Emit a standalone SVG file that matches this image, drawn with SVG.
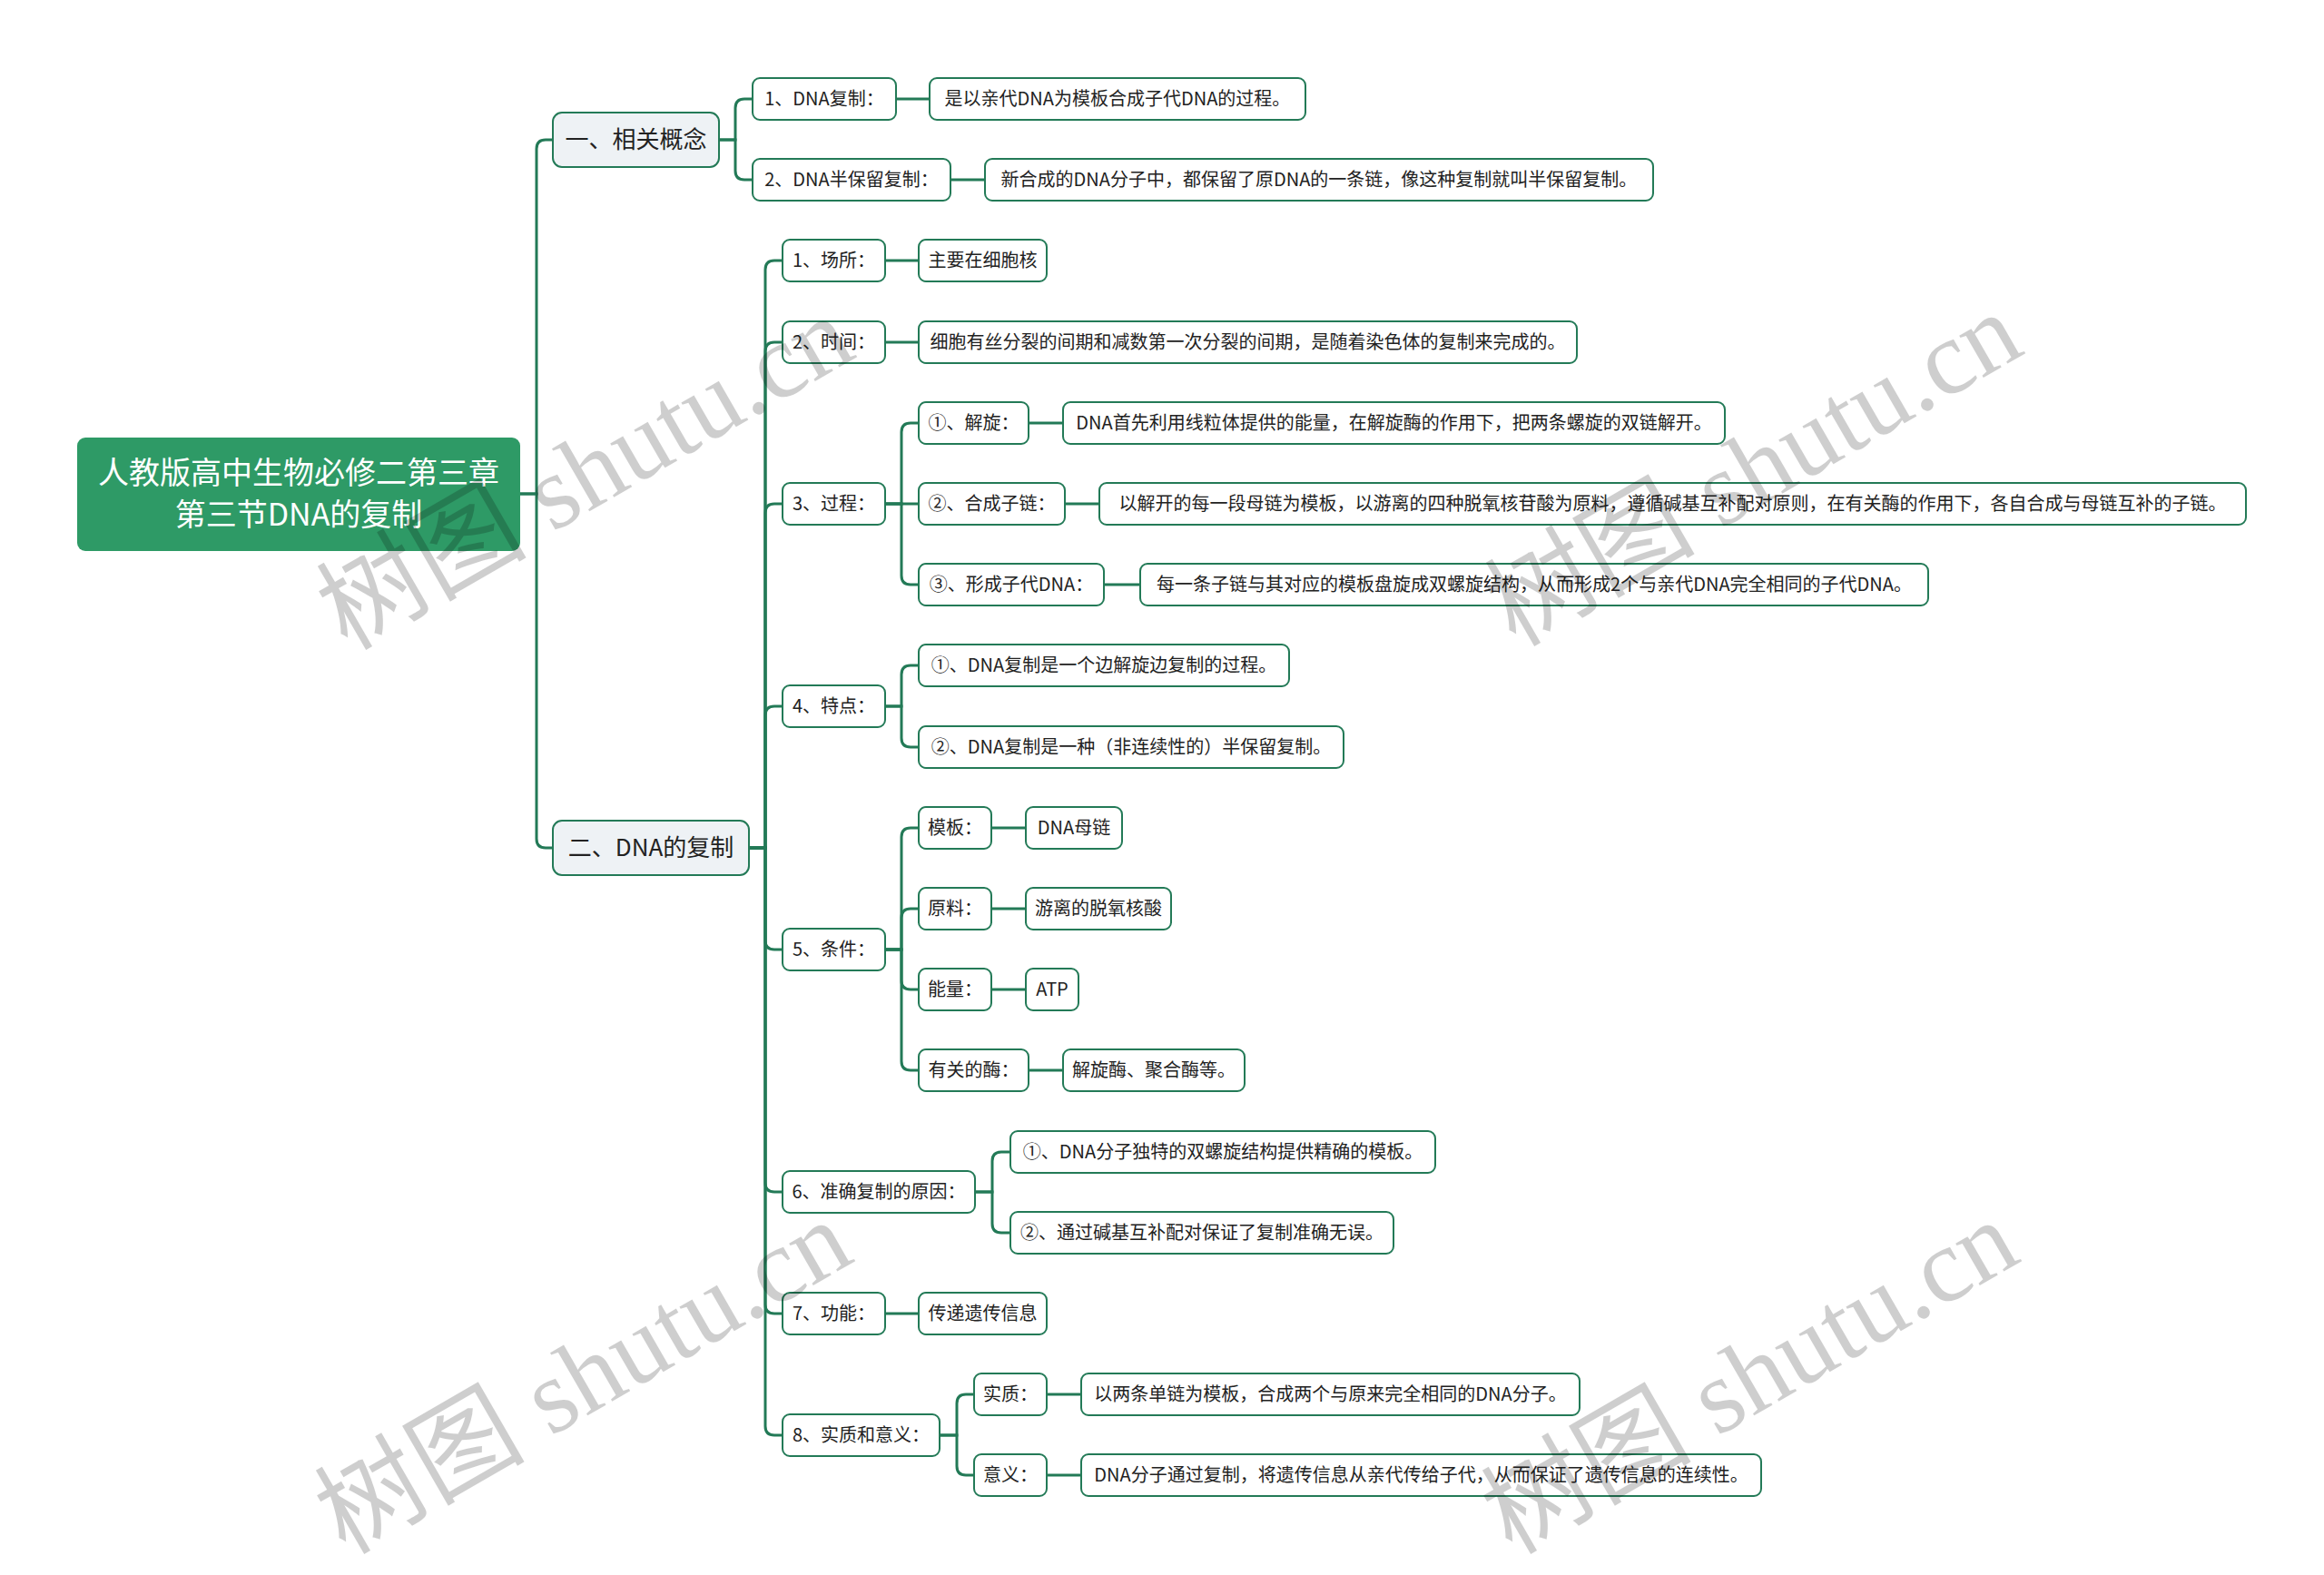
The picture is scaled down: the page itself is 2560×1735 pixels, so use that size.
<svg xmlns="http://www.w3.org/2000/svg" width="2560" height="1735" viewBox="0 0 2560 1735">
<style>
.c{fill:none;stroke:#237a57;stroke-width:3}
.n{fill:#fff;stroke:#237a57;stroke-width:2}
.l1{fill:#eef2f5;stroke:#237a57;stroke-width:2}
.root{fill:#2e9a66}
text{font-family:"Noto Sans CJK SC","Noto Sans",sans-serif;fill:#222;text-anchor:middle}
.t{font-size:20px}
.t1{font-size:26px}
.tr{font-size:34px;fill:#fff}
.wm{font-family:"Liberation Serif","Noto Sans CJK SC",serif;font-size:116px;fill:#000;opacity:0.19}
</style>
<rect width="2560" height="1735" fill="#fff"/>
<g id="connectors">
<path class="c" d="M573,544 H591 V164 Q591,154 601,154 H609"/>
<path class="c" d="M573,544 H591 V924 Q591,934 601,934 H609"/>
<path class="c" d="M792,154 H810 V119 Q810,109 820,109 H829"/>
<path class="c" d="M792,154 H810 V188 Q810,198 820,198 H829"/>
<path class="c" d="M825,934 H843 V297 Q843,287 853,287 H862"/>
<path class="c" d="M825,934 H843 V387 Q843,377 853,377 H862"/>
<path class="c" d="M825,934 H843 V565 Q843,555 853,555 H862"/>
<path class="c" d="M825,934 H843 V788 Q843,778 853,778 H862"/>
<path class="c" d="M825,934 H843 V1036 Q843,1046 853,1046 H862"/>
<path class="c" d="M825,934 H843 V1303 Q843,1313 853,1313 H862"/>
<path class="c" d="M825,934 H843 V1437 Q843,1447 853,1447 H862"/>
<path class="c" d="M825,934 H843 V1571 Q843,1581 853,1581 H862"/>
<path class="c" d="M975,555 H993 V476 Q993,466 1003,466 H1012"/>
<path class="c" d="M975,555 H1012"/>
<path class="c" d="M975,555 H993 V634 Q993,644 1003,644 H1012"/>
<path class="c" d="M975,778 H993 V743 Q993,733 1003,733 H1012"/>
<path class="c" d="M975,778 H993 V813 Q993,823 1003,823 H1012"/>
<path class="c" d="M975,1046 H993 V922 Q993,912 1003,912 H1012"/>
<path class="c" d="M975,1046 H993 V1011 Q993,1001 1003,1001 H1012"/>
<path class="c" d="M975,1046 H993 V1080 Q993,1090 1003,1090 H1012"/>
<path class="c" d="M975,1046 H993 V1169 Q993,1179 1003,1179 H1012"/>
<path class="c" d="M1074,1313 H1093 V1279 Q1093,1269 1103,1269 H1113"/>
<path class="c" d="M1074,1313 H1093 V1348 Q1093,1358 1103,1358 H1113"/>
<path class="c" d="M1035,1581 H1054 V1546 Q1054,1536 1064,1536 H1073"/>
<path class="c" d="M1035,1581 H1054 V1615 Q1054,1625 1064,1625 H1073"/>
<path class="c" d="M987,109 H1024"/>
<path class="c" d="M1047,198 H1085"/>
<path class="c" d="M975,287 H1012"/>
<path class="c" d="M975,377 H1012"/>
<path class="c" d="M1133,466 H1171"/>
<path class="c" d="M1173,555 H1211"/>
<path class="c" d="M1216,644 H1256"/>
<path class="c" d="M1092,912 H1130"/>
<path class="c" d="M1092,1001 H1130"/>
<path class="c" d="M1092,1090 H1130"/>
<path class="c" d="M1133,1179 H1171"/>
<path class="c" d="M975,1447 H1012"/>
<path class="c" d="M1153,1536 H1191"/>
<path class="c" d="M1153,1625 H1191"/>
</g>
<g id="root"><rect class="root" x="85" y="482" width="488" height="125" rx="9"/><text class="tr" x="329" y="533">人教版高中生物必修二第三章</text><text class="tr" x="329" y="579">第三节DNA的复制</text></g>
<g id="n1"><rect class="l1" x="609" y="124" width="183" height="60" rx="10"/><text class="t1" x="700.5" y="163">一、相关概念</text></g>
<g id="n2"><rect class="l1" x="609" y="904" width="216" height="60" rx="10"/><text class="t1" x="717" y="943">二、DNA的复制</text></g>
<g id="n1a"><rect class="n" x="829" y="86" width="158" height="46" rx="8"/><text class="t" x="908" y="116">1、DNA复制：</text></g>
<g id="n1a-v"><rect class="n" x="1024" y="86" width="414" height="46" rx="8"/><text class="t" x="1231" y="116">是以亲代DNA为模板合成子代DNA的过程。</text></g>
<g id="n1b"><rect class="n" x="829" y="175" width="218" height="46" rx="8"/><text class="t" x="938" y="205">2、DNA半保留复制：</text></g>
<g id="n1b-v"><rect class="n" x="1085" y="175" width="736" height="46" rx="8"/><text class="t" x="1453" y="205">新合成的DNA分子中，都保留了原DNA的一条链，像这种复制就叫半保留复制。</text></g>
<g id="n21"><rect class="n" x="862" y="264" width="113" height="46" rx="8"/><text class="t" x="918.5" y="294">1、场所：</text></g>
<g id="n21-v"><rect class="n" x="1012" y="264" width="141" height="46" rx="8"/><text class="t" x="1082.5" y="294">主要在细胞核</text></g>
<g id="n22"><rect class="n" x="862" y="354" width="113" height="46" rx="8"/><text class="t" x="918.5" y="384">2、时间：</text></g>
<g id="n22-v"><rect class="n" x="1012" y="354" width="725" height="46" rx="8"/><text class="t" x="1374.5" y="384">细胞有丝分裂的间期和减数第一次分裂的间期，是随着染色体的复制来完成的。</text></g>
<g id="n23"><rect class="n" x="862" y="532" width="113" height="46" rx="8"/><text class="t" x="918.5" y="562">3、过程：</text></g>
<g id="n231"><rect class="n" x="1012" y="443" width="121" height="46" rx="8"/><text class="t" x="1072.5" y="473">①、解旋：</text></g>
<g id="n231-v"><rect class="n" x="1171" y="443" width="729" height="46" rx="8"/><text class="t" x="1535.5" y="473">DNA首先利用线粒体提供的能量，在解旋酶的作用下，把两条螺旋的双链解开。</text></g>
<g id="n232"><rect class="n" x="1012" y="532" width="161" height="46" rx="8"/><text class="t" x="1092.5" y="562">②、合成子链：</text></g>
<g id="n232-v"><rect class="n" x="1211" y="532" width="1263" height="46" rx="8"/><text class="t" x="1842.5" y="562">以解开的每一段母链为模板，以游离的四种脱氧核苷酸为原料，遵循碱基互补配对原则，在有关酶的作用下，各自合成与母链互补的子链。</text></g>
<g id="n233"><rect class="n" x="1012" y="621" width="204" height="46" rx="8"/><text class="t" x="1114" y="651">③、形成子代DNA：</text></g>
<g id="n233-v"><rect class="n" x="1256" y="621" width="868" height="46" rx="8"/><text class="t" x="1690" y="651">每一条子链与其对应的模板盘旋成双螺旋结构，从而形成2个与亲代DNA完全相同的子代DNA。</text></g>
<g id="n24"><rect class="n" x="862" y="755" width="113" height="46" rx="8"/><text class="t" x="918.5" y="785">4、特点：</text></g>
<g id="n241"><rect class="n" x="1012" y="710" width="408" height="46" rx="8"/><text class="t" x="1216" y="740">①、DNA复制是一个边解旋边复制的过程。</text></g>
<g id="n242"><rect class="n" x="1012" y="800" width="468" height="46" rx="8"/><text class="t" x="1246" y="830">②、DNA复制是一种（非连续性的）半保留复制。</text></g>
<g id="n25"><rect class="n" x="862" y="1023" width="113" height="46" rx="8"/><text class="t" x="918.5" y="1053">5、条件：</text></g>
<g id="n251"><rect class="n" x="1012" y="889" width="80" height="46" rx="8"/><text class="t" x="1052" y="919">模板：</text></g>
<g id="n251-v"><rect class="n" x="1130" y="889" width="106" height="46" rx="8"/><text class="t" x="1183" y="919">DNA母链</text></g>
<g id="n252"><rect class="n" x="1012" y="978" width="80" height="46" rx="8"/><text class="t" x="1052" y="1008">原料：</text></g>
<g id="n252-v"><rect class="n" x="1130" y="978" width="160" height="46" rx="8"/><text class="t" x="1210" y="1008">游离的脱氧核酸</text></g>
<g id="n253"><rect class="n" x="1012" y="1067" width="80" height="46" rx="8"/><text class="t" x="1052" y="1097">能量：</text></g>
<g id="n253-v"><rect class="n" x="1130" y="1067" width="58" height="46" rx="8"/><text class="t" x="1159" y="1097">ATP</text></g>
<g id="n254"><rect class="n" x="1012" y="1156" width="121" height="46" rx="8"/><text class="t" x="1072.5" y="1186">有关的酶：</text></g>
<g id="n254-v"><rect class="n" x="1171" y="1156" width="200" height="46" rx="8"/><text class="t" x="1271" y="1186">解旋酶、聚合酶等。</text></g>
<g id="n26"><rect class="n" x="862" y="1290" width="212" height="46" rx="8"/><text class="t" x="968" y="1320">6、准确复制的原因：</text></g>
<g id="n261"><rect class="n" x="1113" y="1246" width="468" height="46" rx="8"/><text class="t" x="1347" y="1276">①、DNA分子独特的双螺旋结构提供精确的模板。</text></g>
<g id="n262"><rect class="n" x="1113" y="1335" width="422" height="46" rx="8"/><text class="t" x="1324" y="1365">②、通过碱基互补配对保证了复制准确无误。</text></g>
<g id="n27"><rect class="n" x="862" y="1424" width="113" height="46" rx="8"/><text class="t" x="918.5" y="1454">7、功能：</text></g>
<g id="n27-v"><rect class="n" x="1012" y="1424" width="141" height="46" rx="8"/><text class="t" x="1082.5" y="1454">传递遗传信息</text></g>
<g id="n28"><rect class="n" x="862" y="1558" width="173" height="46" rx="8"/><text class="t" x="948.5" y="1588">8、实质和意义：</text></g>
<g id="n281"><rect class="n" x="1073" y="1513" width="80" height="46" rx="8"/><text class="t" x="1113" y="1543">实质：</text></g>
<g id="n281-v"><rect class="n" x="1191" y="1513" width="549" height="46" rx="8"/><text class="t" x="1465.5" y="1543">以两条单链为模板，合成两个与原来完全相同的DNA分子。</text></g>
<g id="n282"><rect class="n" x="1073" y="1602" width="80" height="46" rx="8"/><text class="t" x="1113" y="1632">意义：</text></g>
<g id="n282-v"><rect class="n" x="1191" y="1602" width="749" height="46" rx="8"/><text class="t" x="1565.5" y="1632">DNA分子通过复制，将遗传信息从亲代传给子代，从而保证了遗传信息的连续性。</text></g>
<g id="watermarks">
<text class="wm" transform="translate(645,522) rotate(-30)" y="38">树图 shutu.cn</text>
<text class="wm" transform="translate(1932,518) rotate(-30)" y="38">树图 shutu.cn</text>
<text class="wm" transform="translate(643,1518) rotate(-30)" y="38">树图 shutu.cn</text>
<text class="wm" transform="translate(1928,1518) rotate(-30)" y="38">树图 shutu.cn</text>
</g>
</svg>
